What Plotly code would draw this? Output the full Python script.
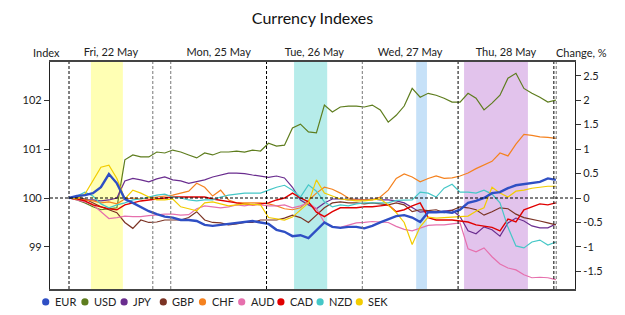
import plotly.graph_objects as go

# hours from Fri 22 May 03:00 (trading-time axis, weekend compressed)
hours = [i * 2 for i in range(62)]

EUR = [100, 100.04, 100.06, 100.1, 100.22, 100.49, 100.3, 99.98, 99.9, 99.82, 99.73, 99.67, 99.62, 99.6, 99.55, 99.55,
       99.53, 99.45, 99.43, 99.45, 99.47, 99.49, 99.51, 99.53, 99.5, 99.47, 99.35, 99.31, 99.22, 99.24, 99.18, 99.35,
       99.5, 99.41, 99.39, 99.41, 99.41, 99.38, 99.43, 99.5, 99.57, 99.63, 99.65, 99.6, 99.51, 99.71, 99.71, 99.72,
       99.7, 99.76, 99.9, 99.94, 100.0, 100.1, 100.12, 100.2, 100.26, 100.28, 100.3, 100.33, 100.4, 100.37]
USD = [100, 99.96, 99.9, 99.82, 99.76, 99.78, 99.8, 100.78, 100.88, 100.84, 100.84, 100.94, 100.92, 100.98, 100.94, 100.88,
       100.82, 100.92, 100.88, 100.94, 100.94, 100.96, 100.94, 100.98, 100.96, 101.12, 101.06, 101.08, 101.43, 101.51, 101.35, 101.33,
       101.9, 101.76, 101.86, 101.88, 101.88, 101.86, 101.9, 101.8, 101.55, 101.69, 101.88, 102.24, 102.06, 102.14, 102.1, 102.04,
       101.96, 101.96, 102.14, 102.04, 101.8, 101.94, 102.1, 102.45, 102.55, 102.24, 102.14, 102.06, 101.96, 102.0]
JPY = [100, 99.98, 99.96, 99.96, 99.94, 99.96, 100.0, 100.35, 100.4, 100.37, 100.33, 100.39, 100.43, 100.37, 100.35, 100.3,
       100.33, 100.37, 100.43, 100.47, 100.51, 100.51, 100.5, 100.47, 100.45, 100.42, 100.45, 100.41, 100.22, 99.96, 99.86, 99.78,
       99.9, 99.98, 99.98, 99.96, 99.98, 99.96, 99.98, 99.96, 99.96, 99.94, 99.9, 99.8, 99.71, 99.73, 99.71, 99.73,
       99.75, 99.62, 99.33, 99.27, 99.41, 99.35, 99.22, 99.49, 99.59, 99.53, 99.43, 99.39, 99.39, 99.47]
GBP = [100, 100.02, 99.98, 99.9, 99.82, 99.76, 99.7, 99.5, 99.38, 99.55, 99.5, 99.51, 99.55, 99.55, 99.55, 99.6,
       99.72, 99.55, 99.5, 99.49, 99.45, 99.47, 99.5, 99.5, 99.55, 99.55, 99.55, 99.59, 99.65, 99.6, 99.5, 99.65,
       99.8, 99.9, 99.92, 99.9, 99.9, 99.88, 99.9, 99.88, 99.86, 99.9, 99.86, 99.72, 99.76, 99.74, 99.76, 99.7,
       99.75, 99.82, 99.8, 99.76, 99.65, 99.72, 99.8, 99.78, 99.67, 99.6, 99.57, 99.53, 99.49, 99.45]
CHF = [100, 99.98, 99.96, 99.94, 99.9, 99.92, 99.88, 99.98, 100.0, 99.98, 100.0, 100.02, 100.04, 100.06, 100.1, 100.14,
       100.3, 100.22, 100.04, 100.16, 99.96, 99.9, 99.9, 99.9, 99.9, 99.88, 99.84, 99.78, 99.76, 99.8, 99.96, 100.1,
       100.22, 100.18, 100.1, 100.0, 99.96, 99.96, 99.96, 100.02, 100.16, 100.4, 100.49, 100.43, 100.33, 100.4, 100.45, 100.4,
       100.41, 100.45, 100.51, 100.6, 100.68, 100.75, 100.92, 100.86, 101.1, 101.3, 101.28, 101.25, 101.24, 101.22]
AUD = [100, 99.96, 99.92, 99.86, 99.72, 99.58, 99.6, 99.63, 99.62, 99.62, 99.64, 99.66, 99.67, 99.67, 99.65, 99.66,
       99.78, 99.84, 99.82, 99.8, 99.82, 99.86, 99.84, 99.87, 99.86, 99.84, 99.84, 99.86, 99.8, 99.84, 99.9, 99.78,
       99.5, 99.41, 99.4, 99.45, 99.49, 99.5, 99.52, 99.51, 99.5, 99.42, 99.36, 99.33, 99.39, 99.44, 99.45, 99.45,
       99.47, 99.49, 98.96, 98.9, 98.98, 98.8, 98.65, 98.57, 98.53, 98.43, 98.37, 98.38, 98.37, 98.33]
CAD = [100, 99.98, 99.94, 99.86, 99.82, 99.78, 99.76, 99.86, 99.9, 99.94, 99.96, 99.98, 100.0, 100.02, 100.02, 100.02,
       100.02, 100.02, 99.98, 99.95, 99.92, 99.9, 99.88, 99.86, 99.88, 99.9, 99.96, 100.0, 100.1, 100.0, 99.92, 99.71,
       99.62, 99.72, 99.8, 99.8, 99.8, 99.82, 99.82, 99.84, 99.86, 99.72, 99.76, 99.84, 99.9, 99.6, 99.55, 99.55,
       99.55, 99.53, 99.51, 99.45, 99.43, 99.4, 99.33, 99.57, 99.51, 99.76, 99.82, 99.88, 99.86, 99.9]
NZD = [100, 100.04, 100.12, 100.04, 99.88, 99.8, 99.86, 99.9, 99.96, 99.98, 100.02, 100.06, 100.08, 100.02, 100.0, 99.96,
       99.94, 99.96, 99.96, 100.02, 100.06, 100.08, 100.1, 100.1, 100.1, 100.16, 100.22, 100.26, 100.16, 100.02, 100.27, 100.14,
       99.92, 99.82, 99.86, 99.84, 99.88, 99.9, 99.9, 99.9, 99.9, 99.95, 99.96, 99.96, 100.12, 100.1, 100.02, 100.2,
       100.28, 100.12, 100.12, 100.1, 100.16, 100.08, 99.9, 99.4, 99.02, 98.98, 99.1, 99.14, 99.04, 99.1]
SEK = [100, 99.98, 100.08, 100.37, 100.63, 100.67, 100.4, 99.98, 100.16, 100.1, 100.02, 99.96, 99.96, 99.98, 99.82, 99.78,
       99.74, 99.9, 99.92, 99.88, 99.84, 99.86, 99.88, 99.87, 99.86, 99.6, 99.57, 99.55, 99.61, 99.76, 99.9, 100.37,
       100.1, 100.04, 99.98, 99.96, 99.94, 99.94, 99.96, 99.98, 99.86, 99.7, 99.5, 99.05, 99.41, 99.61, 99.59, 99.6,
       99.61, 99.61, 99.63, 99.73, 99.8, 100.22, 100.1, 100.02, 100.14, 100.16, 100.2, 100.22, 100.24, 100.24]

names = ["EUR", "USD", "JPY", "GBP", "CHF", "AUD", "CAD", "NZD", "SEK"]
series = [EUR, USD, JPY, GBP, CHF, AUD, CAD, NZD, SEK]
colors = ["#2f4fc4", "#5e7d1e", "#6a2d8f", "#7b3324", "#f5821f", "#e670ad", "#e00000", "#45c7c7", "#f2cc00"]
widths = [2.4, 1.2, 1.2, 1.2, 1.2, 1.2, 1.4, 1.2, 1.2]

day_labels = ["Fri, 22 May", "Mon, 25 May", "Tue, 26 May", "Wed, 27 May", "Thu, 28 May"]
day_centers = [10.5, 37.5, 61.5, 85.5, 109.5]
separators = [(0, "black"), (21, "#777"), (25.5, "#777"), (49.5, "black"), (73.5, "#777"), (97.5, "black"),
              (121.5, "black"), (122.1, "#777")]
bands = [(5.5, 13.5, "#ffffb4"), (56.4, 64.7, "#b6ecea"), (87.0, 89.7, "#c6e1f8"), (99.0, 115.0, "#e2c3ec")]

left_ticks = [99, 100, 101, 102]
right_ticks = [-1.5, -1, -0.5, 0, 0.5, 1, 1.5, 2, 2.5]

fig = go.Figure()
order = [1, 2, 3, 4, 5, 6, 7, 8, 0]
for i in order:
    fig.add_trace(go.Scatter(x=hours, y=series[i], mode="lines", name=names[i], showlegend=False,
                             line=dict(color=colors[i], width=widths[i]), hoverinfo="skip"))
fig.add_trace(go.Scatter(x=[None], y=[None], yaxis="y2", showlegend=False))

shapes = []
for x0, x1, c in bands:
    shapes.append(dict(type="rect", xref="x", yref="paper", x0=x0, x1=x1, y0=0, y1=1,
                       fillcolor=c, line=dict(width=0), layer="below"))
for xv, c in separators:
    shapes.append(dict(type="line", xref="x", yref="paper", x0=xv, x1=xv, y0=0, y1=1,
                       line=dict(color=c, width=1, dash="3px,2px")))
shapes.append(dict(type="line", xref="paper", yref="y", x0=0, x1=1, y0=100, y1=100,
                   line=dict(color="black", width=1, dash="3px,2px")))

# custom legend row below the plot (circle + label)
PLOT_W = 525.0
annotations = []
leg_y = -0.057
for k, (n, c) in enumerate(zip(names, colors)):
    cx = (-4.3 + k * 39.2) / PLOT_W
    shapes.append(dict(type="circle", xref="paper", yref="paper", xsizemode="pixel", ysizemode="pixel",
                       xanchor=cx, yanchor=leg_y, x0=-3.6, x1=3.6, y0=-3.6, y1=3.6,
                       fillcolor=c, line=dict(width=0)))
    annotations.append(dict(text=n, xref="paper", yref="paper", x=cx, xshift=7, y=leg_y,
                            xanchor="left", yanchor="middle", showarrow=False,
                            font=dict(size=11, color="#222")))

annotations += [
    dict(text="Index", xref="paper", yref="paper", x=-0.006, y=1.0, yshift=10, xanchor="center",
         yanchor="middle", showarrow=False, font=dict(size=11)),
    dict(text="Change, %", xref="paper", yref="paper", x=1.012, y=1.0, yshift=10, xanchor="center",
         yanchor="middle", showarrow=False, font=dict(size=11)),
]

FONT = "Lato"
fig.update_layout(
    width=625, height=315,
    margin=dict(l=50, r=50, t=62, b=26),
    paper_bgcolor="white", plot_bgcolor="white",
    font=dict(family=FONT, size=11, color="#222"),
    title=dict(text="Currency Indexes", x=0.5, xanchor="center", y=0.943, yanchor="middle",
               font=dict(family=FONT, size=16, color="#111")),
    shapes=shapes,
    showlegend=False,
    xaxis=dict(range=[-4.76, 126.8], side="top", tickvals=day_centers, ticktext=day_labels,
               ticks="", showgrid=False, zeroline=False, showline=True, mirror=True,
               linecolor="#444", linewidth=1.5, tickfont=dict(size=11)),
    yaxis=dict(range=[98.14, 102.78], tickvals=left_ticks, ticks="outside", ticklen=5,
               tickcolor="#333", showgrid=False, zeroline=False, showline=True, linecolor="#222",
               linewidth=1.2, tickfont=dict(size=11)),
    yaxis2=dict(range=[-1.86, 2.78], overlaying="y", side="right", tickvals=right_ticks,
                ticktext=[str(v) for v in right_ticks], ticks="outside", ticklen=5, tickcolor="#333",
                showgrid=False, zeroline=False, showline=True, linecolor="#222", linewidth=1.2,
                tickfont=dict(size=11)),
    annotations=annotations,
)

fig.write_html("out.html")
